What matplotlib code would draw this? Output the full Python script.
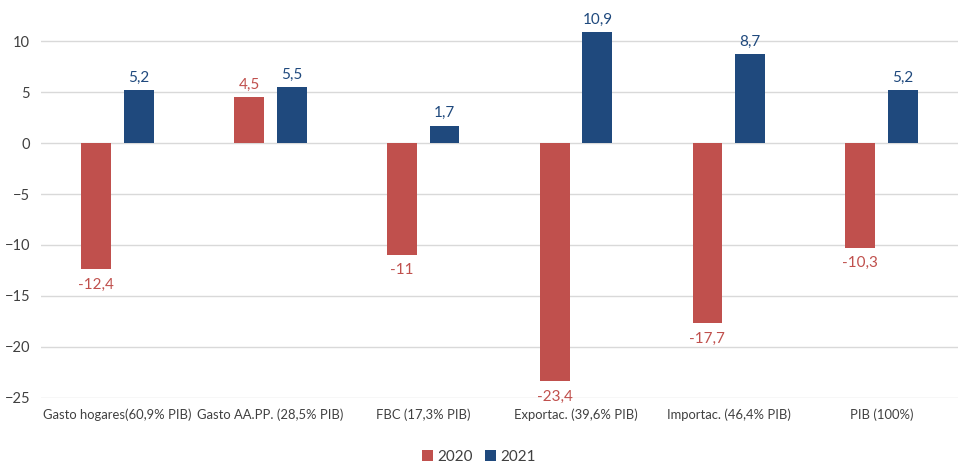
import numpy as np
import matplotlib.pyplot as plt

plt.rcParams['font.family'] = ['Lato', 'DejaVu Sans']

categorias = ['Gasto hogares(60,9% PIB)', 'Gasto AA.PP. (28,5% PIB)', 'FBC (17,3% PIB)',
              'Exportac. (39,6% PIB)', 'Importac. (46,4% PIB)', 'PIB (100%)']
v2020 = [-12.4, 4.5, -11.0, -23.4, -17.7, -10.3]
v2021 = [5.2, 5.5, 1.7, 10.9, 8.7, 5.2]
etiq2020 = ['-12,4', '4,5', '-11', '-23,4', '-17,7', '-10,3']
etiq2021 = ['5,2', '5,5', '1,7', '10,9', '8,7', '5,2']

rojo = '#C0504D'
azul = '#1F497D'

fig = plt.figure(figsize=(9.58, 4.73), dpi=100)
ax = fig.add_axes([0.043, 0.159, 0.957, 0.797])

x = np.arange(len(categorias))
w = 0.195
off = 0.14
ax.bar(x - off, v2020, w, color=rojo, label='2020', zorder=3)
ax.bar(x + off, v2021, w, color=azul, label='2021', zorder=3)

for xi, v, t in zip(x - off, v2020, etiq2020):
    if v >= 0:
        ax.annotate(t, (xi, v), xytext=(0, 4), textcoords='offset points',
                    ha='center', va='bottom', color=rojo, fontsize=11)
    else:
        ax.annotate(t, (xi, v), xytext=(0, -6), textcoords='offset points',
                    ha='center', va='top', color=rojo, fontsize=11)
for xi, v, t in zip(x + off, v2021, etiq2021):
    ax.annotate(t, (xi, v), xytext=(0, 4), textcoords='offset points',
                ha='center', va='bottom', color=azul, fontsize=11)

ax.set_xlim(-0.5, 5.5)
ax.set_ylim(-25, 12)
ax.set_yticks(range(-25, 11, 5))
ax.set_xticks(x)
ax.set_xticklabels(categorias, fontsize=9.4, color='#404040')
ax.tick_params(axis='y', labelsize=10.5, labelcolor='#404040', length=0, pad=8)
ax.tick_params(axis='x', length=0, pad=8)
ax.grid(axis='y', color='#D9D9D9', linewidth=1, zorder=0)
for s in ax.spines.values():
    s.set_visible(False)

fig.legend(loc='lower center', ncol=2, frameon=False, fontsize=11,
           bbox_to_anchor=(0.5, -0.01), handlelength=0.7, handleheight=0.7,
           columnspacing=0.8, handletextpad=0.3, labelcolor='#404040')

fig.savefig('out.png', dpi=100)
